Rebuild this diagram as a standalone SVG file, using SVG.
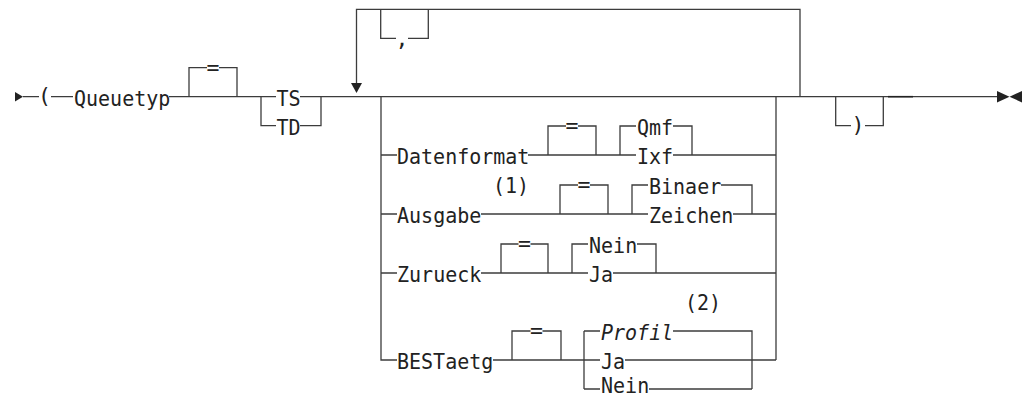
<svg xmlns="http://www.w3.org/2000/svg" width="1023" height="397" viewBox="0 0 1023 397">
<style>
.t{font-family:"DejaVu Sans Mono","Liberation Mono",monospace;font-size:21.5px;fill:#222}
.m{text-anchor:middle}
.i{font-style:italic}
.c path{fill:none;stroke:#3c3c3c;stroke-width:1.3}
.a{fill:#222}
</style>
<rect width="1023" height="397" fill="#fff"/>
<g id="connectors" class="c">
<path d="M23,96.7 H39 M51,96.7 H73 M169,96.7 H261"/>
<path d="M189,96.7 V67.7 H207 M219,67.7 H237 V96.7"/>
<path d="M261,96.7 H276 M300,96.7 H321 M261,96.7 V125.7 H276 M300,125.7 H321 V96.7"/>
<path d="M321,96.7 H997"/>
<path d="M800,96.7 V9.3 H356.5 V84"/>
<path d="M380.7,9.3 V38.3 H396 M408,38.3 H428.3 V9.3"/>
<path d="M381,96.7 V360 H397 M776,96.7 V360"/>
<path d="M381,155 H397 M528,155 H636 M673,155 H776"/>
<path d="M548,155 V126 H566 M578,126 H596 V155"/>
<path d="M620,155 V126 H636 M673,126 H692 V155"/>
<path d="M381,214 H397 M481,214 H648 M733,214 H776"/>
<path d="M560,214 V185 H578 M590,185 H608 V214"/>
<path d="M632,214 V185 H648 M721,185 H752 V214"/>
<path d="M381,273 H397 M481,273 H588 M613,273 H776"/>
<path d="M501,273 V244 H518.5 M530.5,244 H548 V273"/>
<path d="M572,273 V244 H588 M637,244 H656 V273"/>
<path d="M493,360 H600 M625,360 H776"/>
<path d="M512,360 V331 H530.5 M542.5,331 H561 V360"/>
<path d="M584,331 V389 M584,331 H600 M673,331 H752 V389 M584,389 H600 M649,389 H752"/>
<path d="M835.7,96.7 V125.7 H851 M865,125.7 H883.3 V96.7"/>
<path d="M888,96.7 H913" style="stroke-width:1.6;stroke:#222"/>
<polygon class="a" points="15,92 23,96.7 15,101.4"/>
<polygon class="a" points="351,83 362,83 356.5,93"/>
<polygon class="a" points="997,91 1009.5,96.7 997,102.4"/>
<polygon class="a" points="1022,91 1009.5,96.7 1022,102.4"/>
</g>
<g id="n-open"><text class="t" x="38" y="102.5">(</text></g>
<g id="n-queuetyp"><text class="t" x="74" y="106" textLength="96.3" lengthAdjust="spacingAndGlyphs">Queuetyp</text></g>
<g id="n-eq0"><text class="t m" x="213" y="75">=</text></g>
<g id="n-ts"><text class="t" x="276.5" y="106" textLength="24.1" lengthAdjust="spacingAndGlyphs">TS</text></g>
<g id="n-td"><text class="t" x="276.5" y="135" textLength="24.1" lengthAdjust="spacingAndGlyphs">TD</text></g>
<g id="n-comma"><text class="t m" x="402" y="46">,</text></g>
<g id="n-datenformat"><text class="t" x="397" y="164.3" textLength="132.4" lengthAdjust="spacingAndGlyphs">Datenformat</text></g>
<g id="n-eq1"><text class="t m" x="572" y="133.3">=</text></g>
<g id="n-qmf"><text class="t" x="637" y="135.3" textLength="36.1" lengthAdjust="spacingAndGlyphs">Qmf</text></g>
<g id="n-ixf"><text class="t" x="637" y="164.3" textLength="36.1" lengthAdjust="spacingAndGlyphs">Ixf</text></g>
<g id="n-note1"><text class="t" x="493" y="192.5" textLength="36.1" lengthAdjust="spacingAndGlyphs">(1)</text></g>
<g id="n-ausgabe"><text class="t" x="397" y="223.3" textLength="84.3" lengthAdjust="spacingAndGlyphs">Ausgabe</text></g>
<g id="n-eq2"><text class="t m" x="584" y="192.3">=</text></g>
<g id="n-binaer"><text class="t" x="649" y="194.3" textLength="72.2" lengthAdjust="spacingAndGlyphs">Binaer</text></g>
<g id="n-zeichen"><text class="t" x="649" y="223.3" textLength="84.3" lengthAdjust="spacingAndGlyphs">Zeichen</text></g>
<g id="n-zurueck"><text class="t" x="397" y="282.3" textLength="84.3" lengthAdjust="spacingAndGlyphs">Zurueck</text></g>
<g id="n-eq3"><text class="t m" x="524.5" y="251.3">=</text></g>
<g id="n-nein1"><text class="t" x="589" y="253.3" textLength="48.2" lengthAdjust="spacingAndGlyphs">Nein</text></g>
<g id="n-ja1"><text class="t" x="589" y="282.3" textLength="24.1" lengthAdjust="spacingAndGlyphs">Ja</text></g>
<g id="n-note2"><text class="t" x="685" y="309.5" textLength="36.1" lengthAdjust="spacingAndGlyphs">(2)</text></g>
<g id="n-bestaetg"><text class="t" x="397" y="369.3" textLength="96.3" lengthAdjust="spacingAndGlyphs">BESTaetg</text></g>
<g id="n-eq4"><text class="t m" x="536.5" y="338.3">=</text></g>
<g id="n-profil"><text class="t i" x="601" y="340.3" textLength="72.2" lengthAdjust="spacingAndGlyphs">Profil</text></g>
<g id="n-ja2"><text class="t" x="601" y="369.3" textLength="24.1" lengthAdjust="spacingAndGlyphs">Ja</text></g>
<g id="n-nein2"><text class="t" x="601" y="392.5" textLength="48.2" lengthAdjust="spacingAndGlyphs">Nein</text></g>
<g id="n-close"><text class="t m" x="858" y="132">)</text></g>
</svg>
